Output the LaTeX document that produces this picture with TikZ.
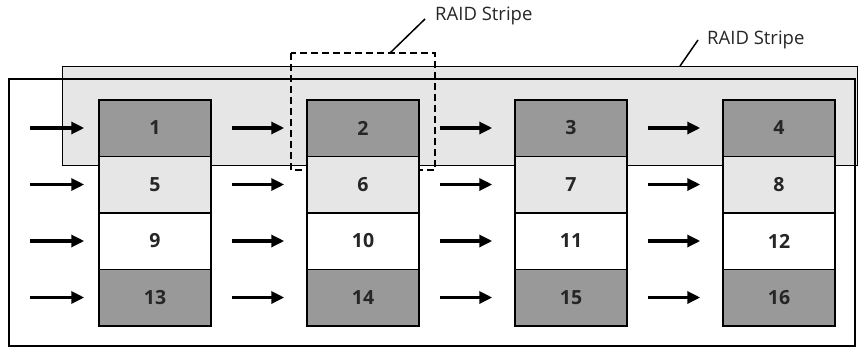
\documentclass[tikz,border=0pt]{standalone}
\usepackage{fontspec}
\setmainfont{Open Sans}
\usetikzlibrary{arrows.meta}
\definecolor{darkbox}{HTML}{999999}
\definecolor{lightbox}{HTML}{E6E6E6}
\definecolor{txt}{HTML}{262626}
\begin{document}
\begin{tikzpicture}[x=1pt,y=-1pt,
  cell/.style={draw=black,line width=1.5pt,minimum width=112pt,minimum height=56.5pt,inner sep=0pt,
    font=\fontsize{19.5}{21}\selectfont\bfseries,text=txt},
  dk/.style={cell,fill=darkbox},
  lt/.style={cell,fill=lightbox},
  wh/.style={cell,fill=white},
  arr/.style={line width=3.2pt,-{Triangle[length=13pt,width=12pt]}},
  lbl/.style={font=\fontsize{18.5}{20}\selectfont,text=txt,inner sep=0pt,anchor=west},
  lead/.style={line width=1.5pt}]
\useasboundingbox (0,0) rectangle (858,348);
% stripe band
\draw[fill=lightbox,line width=1pt] (62,66) rectangle (857,165);
% outer frame
\draw[line width=1.6pt] (9,79) rectangle (855,346);
% dashed column stripe
\draw[line width=1.5pt,dash pattern=on 7pt off 4pt] (291,53) rectangle (435,170);
\coordinate (d1) at (390,53);
\coordinate (b1) at (680,66);
% cells
\foreach \c/\x in {1/155,2/363,3/571,4/779}{
  \pgfmathtruncatemacro{\a}{\c}
  \pgfmathtruncatemacro{\b}{\c+4}
  \pgfmathtruncatemacro{\cc}{\c+8}
  \pgfmathtruncatemacro{\d}{\c+12}
  \node[dk] (c\c r1) at (\x,128) {\a};
  \node[lt] (c\c r2) at (\x,184.5) {\b};
  \node[wh] (c\c r3) at (\x,241) {\cc};
  \node[dk] (c\c r4) at (\x,297.5) {\d};
}
% arrows
\foreach \r in {1,2,3,4}{
  \draw[arr] ([xshift=-68pt]c1r\r.west) -- ([xshift=-14pt]c1r\r.west);
  \foreach \p/\c in {1/2,2/3,3/4}{
    \draw[arr] ([xshift=20pt]c\p r\r.east) -- ([xshift=-22pt]c\c r\r.west);
  }
}
% labels
\node[lbl] (l1) at (435,16) {RAID Stripe};
\node[lbl] (l2) at (707,40) {RAID Stripe};
\coordinate (t1) at (425,19);
\coordinate (t2) at (698,40);
\draw[lead] (d1) -- (t1);
\draw[lead] (b1) -- (t2);
\end{tikzpicture}
\end{document}
